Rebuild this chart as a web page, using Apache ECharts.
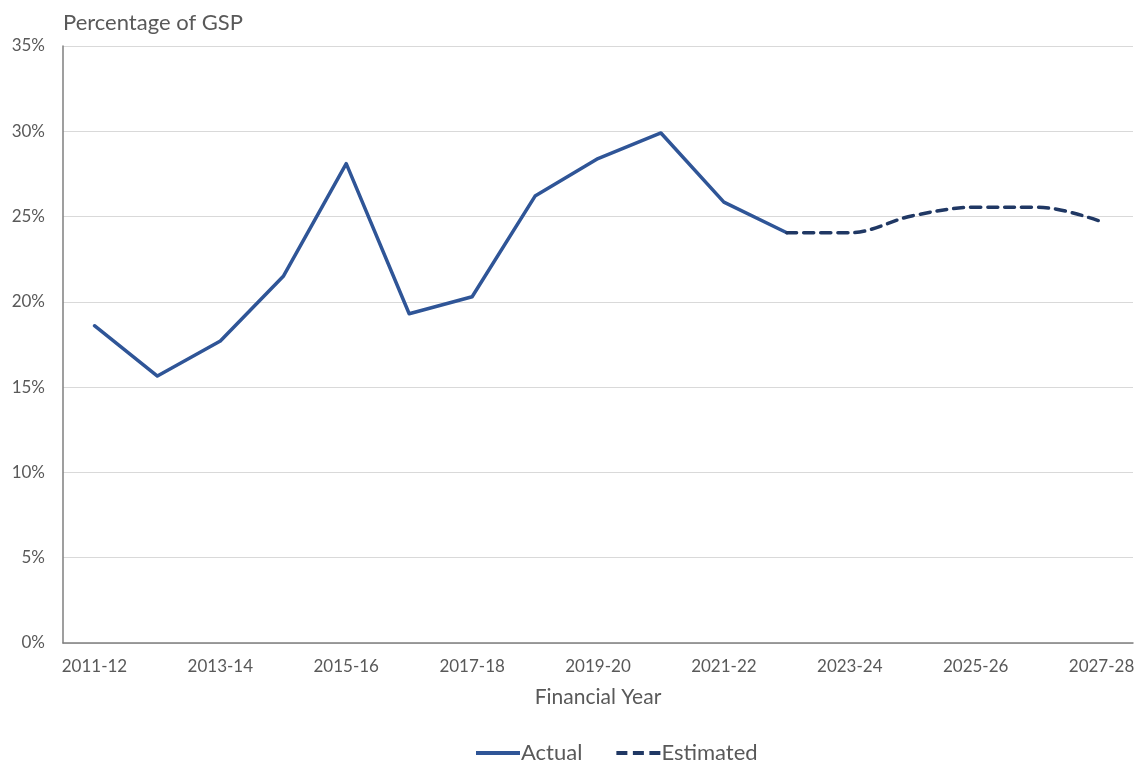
<!DOCTYPE html>
<html>
<head>
<meta charset="utf-8">
<script src="https://cdn.jsdelivr.net/npm/echarts@6/dist/echarts.min.js"></script>
<style>
  html, body { margin: 0; padding: 0; background: #ffffff; }
  #chart { width: 1138px; height: 762px; }
</style>
</head>
<body>
<div id="chart"></div>
<script>
// Financial years on the category axis
const years = ['2011-12','2012-13','2013-14','2014-15','2015-16','2016-17','2017-18','2018-19',
  '2019-20','2020-21','2021-22','2022-23','2023-24','2024-25','2025-26','2026-27','2027-28'];

// Share of GSP (%), recorded years
const actual = [18.6, 15.65, 17.7, 21.5, 28.1, 19.3, 20.3, 26.2, 28.4, 29.9, 25.85, 24.05,
  null, null, null, null, null];

// Share of GSP (%), forward estimates (joined to the last recorded year)
const estimated = [null, null, null, null, null, null, null, null, null, null, null, 24.05,
  24.05, 25.05, 25.55, 25.55, 24.7];

// Y-axis ticks
const yTicks = [0, 5, 10, 15, 20, 25, 30, 35];

const FONT = 'Lato, "Open Sans", sans-serif';
const TEXT = '#595959';
const ACTUAL_COLOR = '#2F5597';
const EST_COLOR = '#203864';

// Legend swatches: a solid bar and a three-dash bar
const SOLID_ICON = 'path://M0,0H44V4H0Z';
const DASH_ICON = 'path://M0,0H10V4H0ZM15,0H25V4H15ZM30,0H40V4H30Z';

const chart = echarts.init(document.getElementById('chart'));
chart.setOption({
  animation: false,
  textStyle: { fontFamily: FONT },
  title: {
    text: 'Percentage of GSP',
    left: 58, top: 7,
    textStyle: { fontFamily: FONT, fontSize: 22, fontWeight: 'normal', color: TEXT }
  },
  grid: { left: 63, right: 5, top: 46, bottom: 119, containLabel: false },
  legend: {
    top: 737, left: 471,
    itemWidth: 44, itemHeight: 4, itemGap: 34,
    symbolKeepAspect: false,
    textStyle: { fontFamily: FONT, fontSize: 22, color: TEXT, padding: [0, 0, 0, -4] },
    data: [
      { name: 'Actual', icon: SOLID_ICON, itemStyle: { color: ACTUAL_COLOR } },
      { name: 'Estimated', icon: DASH_ICON, itemStyle: { color: EST_COLOR } }
    ]
  },
  xAxis: {
    type: 'category',
    data: years,
    boundaryGap: true,
    name: 'Financial Year',
    nameLocation: 'middle',
    nameGap: 44,
    nameTextStyle: { fontFamily: FONT, fontSize: 21, color: TEXT },
    axisLine: { lineStyle: { color: '#7f7f7f', width: 1.5 } },
    axisTick: { show: false },
    axisLabel: { interval: 1, fontFamily: FONT, fontSize: 17, color: TEXT, margin: 15 }
  },
  yAxis: {
    type: 'value',
    min: yTicks[0], max: yTicks[yTicks.length - 1], interval: 5,
    axisLine: { show: true, lineStyle: { color: '#7f7f7f', width: 1.5 } },
    axisTick: { show: false },
    axisLabel: { formatter: v => v + '%', fontFamily: FONT, fontSize: 17, color: TEXT, margin: 18 },
    splitLine: { lineStyle: { color: '#d9d9d9', width: 1.2 } }
  },
  series: [
    {
      name: 'Actual', type: 'line', data: actual,
      showSymbol: false, symbol: 'none',
      lineStyle: { color: ACTUAL_COLOR, width: 3.5, cap: 'round', join: 'round' },
      itemStyle: { color: ACTUAL_COLOR }
    },
    {
      name: 'Estimated', type: 'line', data: estimated,
      showSymbol: false, symbol: 'none', smooth: 0.35,
      lineStyle: { color: EST_COLOR, width: 3.5, type: [10, 7], cap: 'round' },
      itemStyle: { color: EST_COLOR }
    }
  ]
});
</script>
</body>
</html>
